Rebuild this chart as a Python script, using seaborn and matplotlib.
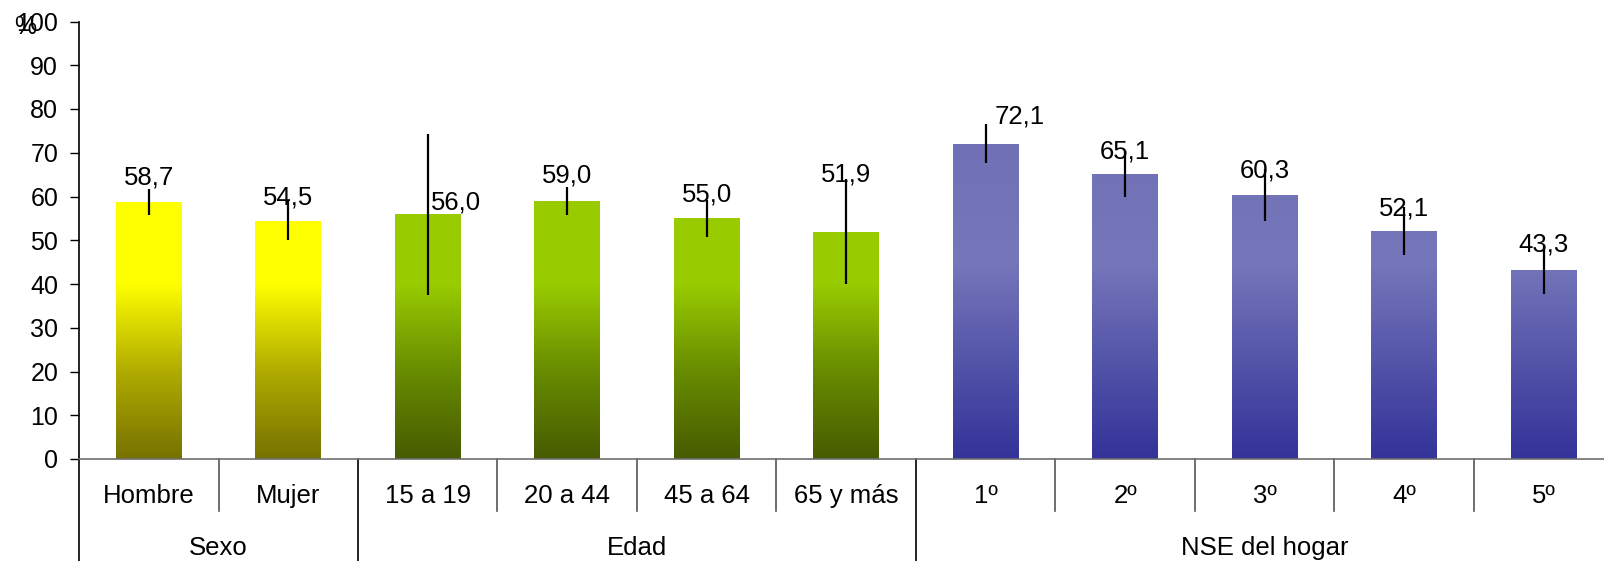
import numpy as np
import matplotlib
matplotlib.use("Agg")
import matplotlib.pyplot as plt
from matplotlib.colors import LinearSegmentedColormap
import seaborn as sns

# Data
categories = ["Hombre", "Mujer", "15 a 19", "20 a 44", "45 a 64", "65 y más",
              "1º", "2º", "3º", "4º", "5º"]
groups = ["Sexo", "Sexo", "Edad", "Edad", "Edad", "Edad",
          "NSE del hogar", "NSE del hogar", "NSE del hogar", "NSE del hogar", "NSE del hogar"]
values = [58.7, 54.5, 56.0, 59.0, 55.0, 51.9, 72.1, 65.1, 60.3, 52.1, 43.3]
errors = [3.0, 4.4, 18.4, 3.2, 4.2, 12.0, 4.5, 5.2, 6.0, 5.5, 5.5]
group_names = ["Sexo", "Edad", "NSE del hogar"]
yticks = list(range(0, 101, 10))

# gradient colours per group (bottom -> top)
grad_colors = {
    "Sexo": [(0.0, "#767200"), (0.2, "#B0AC00"), (0.4, "#FFFF00"), (1.0, "#FFFF00")],
    "Edad": [(0.0, "#475B00"), (0.2, "#688C00"), (0.4, "#99CC00"), (1.0, "#99CC00")],
    "NSE del hogar": [(0.0, "#333399"), (0.45, "#7676BA"), (1.0, "#6A6AB2")],
}
# label offsets in points (dx, dy above bar top)
label_offsets = [(0, 13), (0, 11.5), (20, 3), (0, 13.5), (0, 12), (0, 36),
                 (24.5, 14.4), (0, 11.5), (0, 12.5), (0, 11.5), (0, 13)]

plt.rcParams["font.family"] = ["Liberation Sans", "DejaVu Sans"]

fig = plt.figure(figsize=(16.04, 5.61), dpi=100)
ax = fig.add_axes([79 / 1604, 102 / 561, 11 * 139.5 / 1604, 437.5 / 561])

df_x = np.arange(len(categories))
sns.barplot(x=categories, y=values, ax=ax, width=0.47, color="white",
            errorbar=None, saturation=1)

# gradient fills clipped to each bar
grad = np.linspace(0, 1, 256).reshape(-1, 1)
bars = sorted(ax.patches, key=lambda p: p.get_x())
for bar, grp in zip(bars, groups):
    bar.set_edgecolor("none")
    cmap = LinearSegmentedColormap.from_list(grp, grad_colors[grp])
    x0 = bar.get_x()
    im = ax.imshow(grad, extent=[x0, x0 + bar.get_width(), 0, 100], origin="lower",
                   aspect="auto", cmap=cmap, zorder=2, interpolation="bilinear")
    im.set_clip_path(bar)

ax.errorbar(df_x, values, yerr=errors, fmt="none", ecolor="black",
            elinewidth=1.6, capsize=0, zorder=4)

for i, (v, (dx, dy)) in enumerate(zip(values, label_offsets)):
    ax.annotate(f"{v:.1f}".replace(".", ","), xy=(i, v), xytext=(dx, dy),
                textcoords="offset points", ha="center", va="baseline",
                fontsize=18.5, zorder=5)

ax.set_xlim(-0.5, 10.5)
ax.set_ylim(0, 100)
ax.set_yticks(yticks)
ax.set_yticklabels([str(t) for t in yticks])
ax.tick_params(axis="y", length=6.5, width=1, direction="out", labelsize=18,
               pad=8.5, colors="black")
ax.tick_params(axis="x", length=0, labelsize=18.5, pad=26.5)
for lab in ax.get_xticklabels():
    lab.set_va("center")
ax.set_xlabel("")
ax.set_ylabel("")

for s in ["top", "right"]:
    ax.spines[s].set_visible(False)
ax.spines["left"].set_color("black")
ax.spines["left"].set_linewidth(1.2)
ax.spines["bottom"].set_color("#6e6e6e")
ax.spines["bottom"].set_linewidth(1.2)

# multi-level axis separators
trans = ax.get_xaxis_transform()
short_len = (511 - 459) / 437.5
long_len = (561 - 459) / 437.5 + 0.02
for i in range(1, len(categories)):
    is_group_edge = groups[i] != groups[i - 1]
    ax.plot([i - 0.5, i - 0.5], [0, -(long_len if is_group_edge else short_len)],
            transform=trans, color="black" if is_group_edge else "#555555",
            lw=1.2, clip_on=False)
ax.plot([-0.5, -0.5], [0, -long_len], transform=trans, color="black",
        lw=1.2, clip_on=False)

for g in group_names:
    idx = [i for i, gg in enumerate(groups) if gg == g]
    ax.text(np.mean(idx), -(548 - 459) / 437.5, g, transform=trans,
            ha="center", va="center", fontsize=18.5)

fig.text(14 / 1604, 1 - 34 / 561, "%", fontsize=18, va="baseline", ha="left")

fig.savefig("out.png", dpi=100)
